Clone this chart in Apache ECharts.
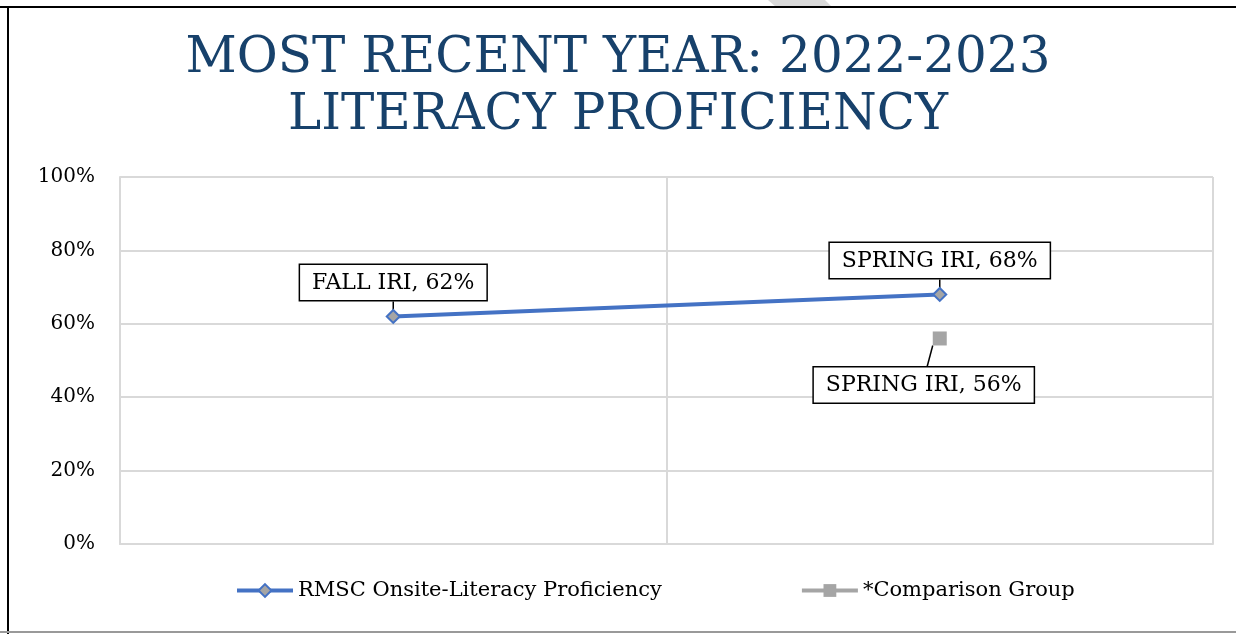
<!DOCTYPE html>
<html>
<head>
<meta charset="utf-8">
<script src="https://cdn.jsdelivr.net/npm/echarts@6/dist/echarts.min.js"></script>
<style>
html,body{margin:0;padding:0;background:#fff;}
#chart{width:1236px;height:634px;}
</style>
</head>
<body>
<div id="chart"></div>
<script>
const titleLines = ['MOST RECENT YEAR: 2022-2023', 'LITERACY PROFICIENCY'];
const categories = ['FALL IRI', 'SPRING IRI'];
const rmscValues = [62, 68];
const comparisonValues = [null, 56];
const seriesNames = ['RMSC Onsite-Literacy Proficiency', '*Comparison Group'];
const yTicks = { min: 0, max: 100, interval: 20 };

const serif = 'DejaVu Serif';
const labelBox = {
  show: true,
  formatter: '{b}, {c}%',
  fontFamily: serif, fontSize: 22, color: '#000',
  backgroundColor: '#fff', borderColor: '#000', borderWidth: 1.5,
  padding: [7, 12, 6, 12]
};
const chart = echarts.init(document.getElementById('chart'));
chart.setOption({
  backgroundColor: '#fff',
  animation: false,
  title: {
    text: titleLines.join('\n'),
    left: 'center',
    top: 26,
    textStyle: { fontFamily: serif, fontSize: 50, fontWeight: 'normal', color: '#17416b', lineHeight: 57 }
  },
  legend: {
    left: 230,
    top: 575,
    itemWidth: 56,
    itemHeight: 16,
    itemGap: 138,
    textStyle: { fontFamily: serif, fontSize: 21, color: '#000' },
    data: [
      { name: seriesNames[0], lineStyle: { width: 4, color: '#4472c4' }, itemStyle: { color: '#a5a5a5', borderColor: '#4472c4', borderWidth: 2 } },
      { name: seriesNames[1], lineStyle: { width: 4, color: '#a5a5a5' }, itemStyle: { color: '#a5a5a5' } }
    ]
  },
  grid: { left: 120, right: 23, top: 177, bottom: 90 },
  xAxis: {
    type: 'category',
    data: categories,
    boundaryGap: true,
    axisLabel: { show: false },
    axisTick: { show: false },
    axisLine: { lineStyle: { color: '#d9d9d9', width: 2 } },
    splitLine: { show: true, lineStyle: { color: '#d9d9d9', width: 2 } }
  },
  yAxis: {
    type: 'value',
    min: yTicks.min, max: yTicks.max, interval: yTicks.interval,
    axisLabel: { formatter: '{value}%', fontFamily: serif, fontSize: 20, color: '#000', margin: 25, lineHeight: 26, verticalAlign: 'middle' },
    axisLine: { show: true, lineStyle: { color: '#d9d9d9', width: 2 } },
    axisTick: { show: false },
    splitLine: { lineStyle: { color: '#d9d9d9', width: 2 } }
  },
  series: [
    {
      name: seriesNames[0],
      type: 'line',
      data: rmscValues,
      symbol: 'diamond',
      symbolSize: 13,
      lineStyle: { color: '#4472c4', width: 4 },
      itemStyle: { color: '#a5a5a5', borderColor: '#4472c4', borderWidth: 2 },
      label: Object.assign({}, labelBox, { position: 'top', distance: 0 }),
      labelLayout: { dy: -9 },
      labelLine: { show: true, lineStyle: { color: '#000', width: 1.5 } },
      z: 3
    },
    {
      name: seriesNames[1],
      type: 'line',
      data: comparisonValues,
      symbol: 'rect',
      symbolSize: 14,
      lineStyle: { color: '#a5a5a5', width: 4 },
      itemStyle: { color: '#a5a5a5' },
      label: Object.assign({}, labelBox, { position: 'bottom', distance: 22, offset: [-16, 0] }),
      labelLine: { show: true, lineStyle: { color: '#000', width: 1.5 } },
      z: 2
    }
  ],
  graphic: [
    { type: 'polygon', shape: { points: [[768, 0], [825, 0], [832, 7], [776, 7]] }, style: { fill: '#d9d9d9' }, silent: true },
    { type: 'line', shape: { x1: 0, y1: 7, x2: 1236, y2: 7 }, style: { stroke: '#000', lineWidth: 2 }, silent: true },
    { type: 'line', shape: { x1: 8, y1: 7, x2: 8, y2: 634 }, style: { stroke: '#000', lineWidth: 2 }, silent: true },
    { type: 'line', shape: { x1: 0, y1: 632, x2: 1236, y2: 632 }, style: { stroke: '#999', lineWidth: 2 }, silent: true }
  ]
});
</script>
</body>
</html>
